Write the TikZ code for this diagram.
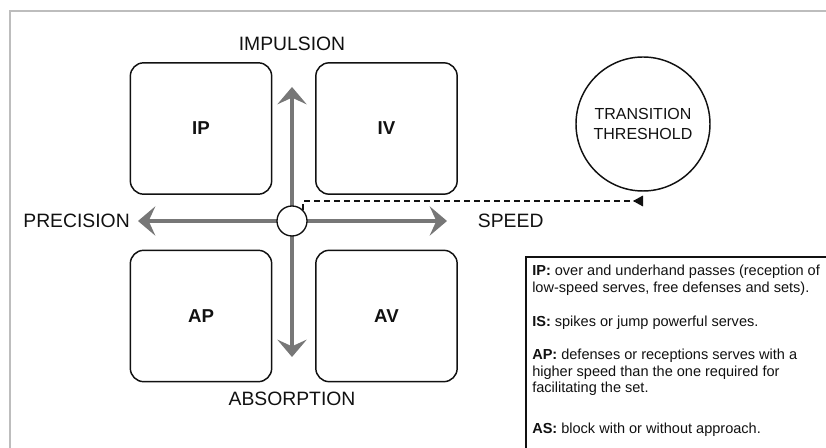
\documentclass[tikz,border=0pt]{standalone}
\usepackage{fontspec}
\setmainfont{Liberation Sans}
\usetikzlibrary{arrows.meta,positioning}
\definecolor{ink}{HTML}{111111}
\definecolor{axisgray}{HTML}{777777}
\definecolor{framegray}{HTML}{BDBDBD}

\begin{document}
\begin{tikzpicture}[x=0.75pt, y=-0.75pt,
      node distance=6pt,
      quad/.style={draw=ink, line width=1.1pt, rounded corners=10pt, minimum width=106pt, minimum height=98.5pt, font=\fontsize{14pt}{16pt}\selectfont\bfseries, text=ink},
      hub/.style={draw=ink, line width=1pt, fill=white, circle, minimum size=22.5pt, inner sep=0pt},
      threshold/.style={draw=ink, line width=1.1pt, circle, minimum size=100.5pt, inner sep=0pt, align=center, font=\fontsize{12pt}{15.5pt}\selectfont, text=ink},
      axlabel/.style={inner sep=0pt, font=\fontsize{14.5pt}{16pt}\selectfont, text=ink},
      note/.style={anchor=north west, inner sep=0pt, align=left, font=\fontsize{10.9pt}{12.4pt}\selectfont, text=ink},
      axis/.style={-{Stealth[length=13pt, width=22pt, inset=5pt]}, line width=2.3pt, color=axisgray},
      link/.style={dashed, dash pattern=on 4.5pt off 3pt, line width=0.9pt, color=ink, -{Triangle[reversed, length=7.5pt, width=8pt]}}]
    \useasboundingbox (0,0) rectangle (826,448);
    % frame and legend
    \draw[framegray, line width=1.2pt] (10,11) rectangle (840,460);
    \draw[ink, line width=1pt] (526,257) rectangle (840,460);
    % quadrants
    \node[quad] (ip) at (201,128.5) {IP};
    \node[quad] (iv) at (386.5,128.5) {IV};
    \node[quad] (ap) at (201,316) {AP};
    \node[quad] (av) at (386.5,316) {AV};
    % axes
    \coordinate (pn) at (292,87);
    \coordinate (ps) at (292,357);
    \coordinate (pw) at (138,221);
    \coordinate (pe) at (447,221);
    \draw[axis] (292,221) -- (pn);
    \draw[axis] (292,221) -- (ps);
    \draw[axis] (292,221) -- (pw);
    \draw[axis] (292,221) -- (pe);
    \node[hub] (hub) at (292,221) {};
    \node[axlabel, above=27pt of pn] (imp) {IMPULSION};
    \node[axlabel, below=26pt of ps] (abs) {ABSORPTION};
    \node[axlabel, left=6pt of pw] (prec) {PRECISION};
    \node[axlabel, right=23pt of pe] (spd) {SPEED};
    % threshold
    \node[threshold] (thr) at (643,124) {TRANSITION\\THRESHOLD};
    \coordinate (tfoot) at (643,201);
    \draw[link] (hub.north east) |- (tfoot);
    % legend
    \node[note] (nip) at (532,265) {\textbf{IP:} over and underhand passes (reception of\\low-speed serves, free defenses and sets).};
    \node[note] (nis) at (532,316) {\textbf{IS:} spikes or jump powerful serves.};
    \node[note] (nap) at (532,349) {\textbf{AP:} defenses or receptions serves with a\\higher speed than the one required for\\facilitating the set.};
    \node[note] (nas) at (532,423) {\textbf{AS:} block with or without approach.};
  \end{tikzpicture}
\end{document}
